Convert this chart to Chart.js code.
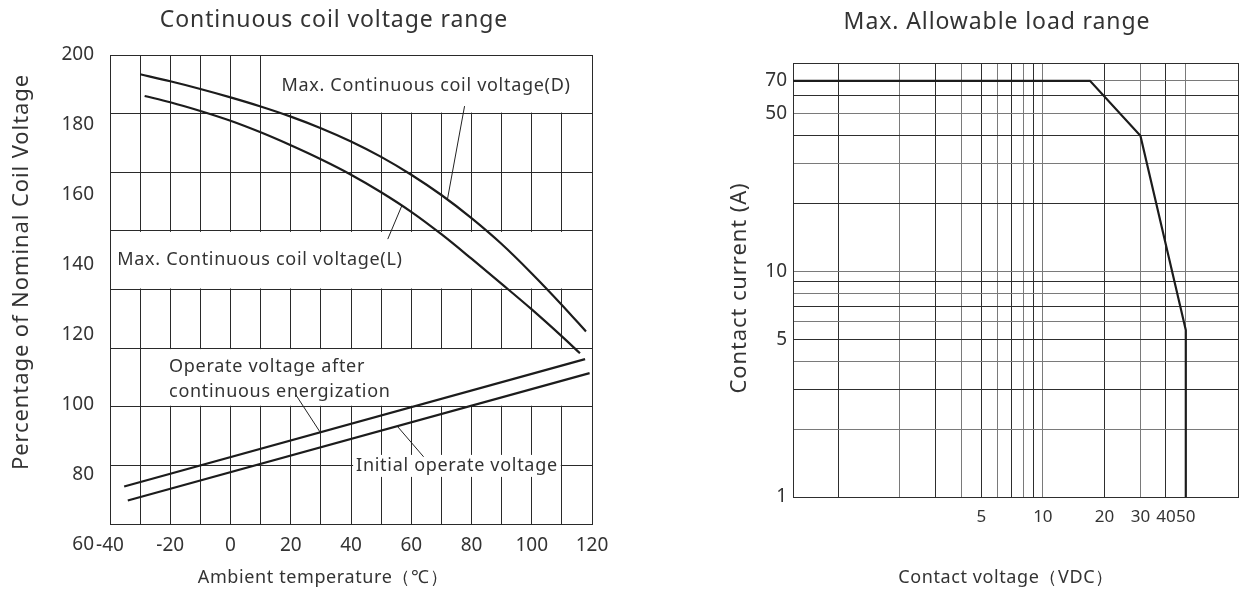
<!DOCTYPE html>
<html>
<head>
<meta charset="utf-8">
<script src="https://cdn.jsdelivr.net/npm/chart.js@4.4.1/dist/chart.umd.min.js"></script>
<style>
  html, body { margin: 0; padding: 0; background: #fff; }
  #wrap { position: relative; width: 1248px; height: 593px; }
  canvas { position: absolute; top: 0; }
  #coil { left: 0; }
  #load { left: 640px; }
</style>
</head>
<body>
<div id="wrap">
  <canvas id="coil" width="640" height="593"></canvas>
  <canvas id="load" width="608" height="593"></canvas>
</div>
<script>
// ---- left: continuous coil voltage range ----
const tempTicks = [-40, -20, 0, 20, 40, 60, 80, 100, 120];
const pctTicks = [60, 80, 100, 120, 140, 160, 180, 200];

const maxDTemp = [-30, -20, -10, 0, 10, 20, 30, 40, 50, 60, 70, 80, 90, 100, 110, 118];
const maxDPct = [194.5, 192.5, 190.3, 187.9, 185.3, 182.4, 179.1, 175.3, 170.9, 165.8, 160.0, 153.4, 146.0, 137.6, 128.6, 121.0];
const maxLTemp = [-28.5, -20, -10, 0, 10, 20, 30, 40, 50, 60, 70, 80, 90, 100, 110, 116];
const maxLPct = [188.3, 186.5, 184.0, 181.2, 177.9, 174.2, 170.2, 165.8, 160.8, 155.2, 148.8, 141.8, 134.6, 127.3, 119.6, 114.8];
const operateTemp = [-35.3, 117.7];
const operatePct = [76.7, 113.1];
const initialTemp = [-34.1, 119.2];
const initialPct = [72.7, 109.1];

// ---- right: max. allowable load range ----
const loadVolt = [0.6, 17, 30, 50, 50];
const loadAmp = [70, 70, 40, 5.5, 1];
const voltGrid = [1, 2, 3, 4, 5, 6, 7, 8, 9, 10, 20, 30, 40, 50];
const voltLabels = [5, 10, 20, 30, 40, 50];
const ampGrid = [1, 2, 3, 4, 5, 6, 7, 8, 9, 10, 20, 30, 40, 50, 60, 70];
const ampLabels = [1, 5, 10, 50, 70];

const FONT = "'Noto Sans', sans-serif";
const INK = '#333';
const LINE = '#1c1c1c';

Chart.defaults.font.family = FONT;
Chart.defaults.color = INK;

function pts(xs, ys) {
  return xs.map((x, i) => ({ x: x, y: ys[i] }));
}

// free text (titles) drawn per chart
const textPlugin = {
  id: 'texts',
  afterDraw(chart, args, opts) {
    const ctx = chart.ctx;
    ctx.save();
    ctx.fillStyle = INK;
    ctx.textBaseline = 'middle';
    ctx.textAlign = 'center';
    (opts.items || []).forEach(t => {
      ctx.font = t.size + 'px ' + FONT;
      ctx.letterSpacing = (t.spacing || 0) + 'px';
      ctx.save();
      ctx.translate(t.x, t.y);
      if (t.rotate) ctx.rotate(-Math.PI / 2);
      ctx.fillText(t.text, 0, 0);
      ctx.restore();
    });
    ctx.restore();
  }
};

// curve notes with white boxes and leader lines (left chart)
const notes = [
  { text: 'Max. Continuous coil voltage(D)', t: 16.9, v: 191.1, from: [77.7, 185.4], to: [72, 158.7] },
  { text: 'Max. Continuous coil voltage(L)', t: -37.6, v: 141.4, from: [52.2, 147.4], to: [56.9, 157.0] },
  { text: 'Operate voltage after', t: -20.4, v: 110.9 },
  { text: 'continuous energization', t: -20.4, v: 103.8, from: [21.7, 102.9], to: [29.7, 92.3] },
  { text: 'Initial operate voltage', t: 41.7, v: 82.6, tight: true, from: [64.1, 85.2], to: [55.4, 93.9] }
];
// blank rows in the grid: temperature span, grid row span
const blanks = [
  { t0: 10, t1: 120, r0: 7, r1: 8 },
  { t0: -40, t1: 120, r0: 4, r1: 5 },
  { t0: -30, t1: 120, r0: 2, r1: 3 }
];

const notePlugin = {
  id: 'notes',
  beforeDatasetsDraw(chart) {
    const { ctx, scales } = chart;
    const x = scales.x, y = scales.y, g = scales.yg;
    ctx.save();
    ctx.fillStyle = '#fff';
    blanks.forEach(b => {
      const x0 = x.getPixelForValue(b.t0), x1 = x.getPixelForValue(b.t1);
      const y0 = g.getPixelForValue(b.r1), y1 = g.getPixelForValue(b.r0);
      ctx.fillRect(x0 + 1, y0 + 1, x1 - x0 - 2, y1 - y0 - 2);
    });
    ctx.font = '18px ' + FONT;
    ctx.letterSpacing = '0.7px';
    ctx.textBaseline = 'middle';
    ctx.textAlign = 'left';
    notes.forEach(n => {
      const px = x.getPixelForValue(n.t), py = y.getPixelForValue(n.v);
      if (n.tight) {
        const w = ctx.measureText(n.text).width;
        ctx.fillStyle = '#fff';
        ctx.fillRect(px - 3, py - 11, w + 6, 22);
      }
      ctx.fillStyle = INK;
      ctx.fillText(n.text, px, py);
      if (n.from) {
        ctx.strokeStyle = '#222';
        ctx.lineWidth = 1;
        ctx.beginPath();
        ctx.moveTo(x.getPixelForValue(n.from[0]), y.getPixelForValue(n.from[1]));
        ctx.lineTo(x.getPixelForValue(n.to[0]), y.getPixelForValue(n.to[1]));
        ctx.stroke();
      }
    });
    ctx.restore();
  }
};

const coilLine = { borderColor: LINE, borderWidth: 2.2, pointRadius: 0, fill: false };
const curve = { cubicInterpolationMode: 'monotone' };

new Chart(document.getElementById('coil'), {
  type: 'line',
  data: {
    datasets: [
      Object.assign({ data: pts(maxDTemp, maxDPct) }, curve, coilLine),
      Object.assign({ data: pts(maxLTemp, maxLPct) }, curve, coilLine),
      Object.assign({ data: pts(operateTemp, operatePct), tension: 0 }, coilLine),
      Object.assign({ data: pts(initialTemp, initialPct), tension: 0 }, coilLine)
    ]
  },
  options: {
    responsive: false,
    animation: false,
    layout: { padding: { top: 55, right: 48, left: 0, bottom: 0 } },
    plugins: {
      legend: { display: false },
      tooltip: { enabled: false },
      texts: {
        items: [
          { text: 'Continuous coil voltage range', x: 334, y: 20, size: 23, spacing: 0.9 },
          { text: 'Ambient temperature（℃）', x: 323, y: 578, size: 18, spacing: 0.6 },
          { text: 'Percentage of Nominal Coil Voltage', x: 22, y: 272, size: 22, spacing: 0.9, rotate: true }
        ]
      }
    },
    scales: {
      x: {
        type: 'linear', min: -40, max: 120,
        afterFit: s => { s.height = 69; },
        ticks: {
          stepSize: 10, autoSkip: false, maxRotation: 0, padding: 10,
          font: { size: 19 },
          callback: v => tempTicks.includes(v) ? String(v) : ''
        },
        grid: { color: '#2a2a2a', drawTicks: false },
        border: { color: '#2a2a2a' }
      },
      y: {
        type: 'linear', min: 66, max: 200, position: 'left',
        afterFit: s => { s.width = 110; },
        afterBuildTicks: s => { s.ticks = pctTicks.map(v => ({ value: v })); },
        ticks: { autoSkip: false, padding: 16, font: { size: 19 } },
        grid: { display: false, drawTicks: false },
        border: { color: '#2a2a2a' }
      },
      yg: {
        type: 'linear', min: 0, max: 8, position: 'left',
        afterFit: s => { s.width = 0; },
        ticks: { display: false, stepSize: 1 },
        grid: { color: '#2a2a2a', drawTicks: false },
        border: { display: false }
      }
    }
  },
  plugins: [notePlugin, textPlugin]
});

new Chart(document.getElementById('load'), {
  type: 'line',
  data: {
    datasets: [{
      data: pts(loadVolt, loadAmp),
      borderColor: LINE, borderWidth: 2.2, pointRadius: 0, tension: 0
    }]
  },
  options: {
    responsive: false,
    animation: false,
    layout: { padding: { top: 63, right: 6, left: 0, bottom: 0 } },
    plugins: {
      legend: { display: false },
      tooltip: { enabled: false },
      texts: {
        items: [
          { text: 'Max. Allowable load range', x: 357, y: 22, size: 23, spacing: 0.9 },
          { text: 'Contact voltage（VDC）', x: 366, y: 578, size: 18, spacing: 0.6 },
          { text: 'Contact current (A)', x: 100, y: 288, size: 22, spacing: 0.9, rotate: true }
        ]
      }
    },
    scales: {
      x: {
        type: 'logarithmic', min: 0.6, max: 90,
        afterFit: s => { s.height = 96; },
        afterBuildTicks: s => { s.ticks = voltGrid.concat([90]).map(v => ({ value: v })); },
        ticks: {
          autoSkip: false, maxRotation: 0, padding: 10,
          font: { size: 17 },
          callback: v => voltLabels.includes(v) ? String(v) : ''
        },
        grid: { color: c => c.index % 2 ? '#7a7a7a' : '#2e2e2e', drawTicks: false },
        border: { color: '#2e2e2e' }
      },
      y: {
        type: 'logarithmic', min: 1, max: 84,
        afterFit: s => { s.width = 153; },
        afterBuildTicks: s => { s.ticks = ampGrid.concat([84]).map(v => ({ value: v })); },
        ticks: {
          autoSkip: false, padding: 6,
          font: { size: 19 },
          callback: v => ampLabels.includes(v) ? String(v) : ''
        },
        grid: { color: c => c.index % 2 ? '#7a7a7a' : '#2e2e2e', drawTicks: false },
        border: { color: '#2e2e2e' }
      }
    }
  },
  plugins: [textPlugin]
});
</script>
</body>
</html>
